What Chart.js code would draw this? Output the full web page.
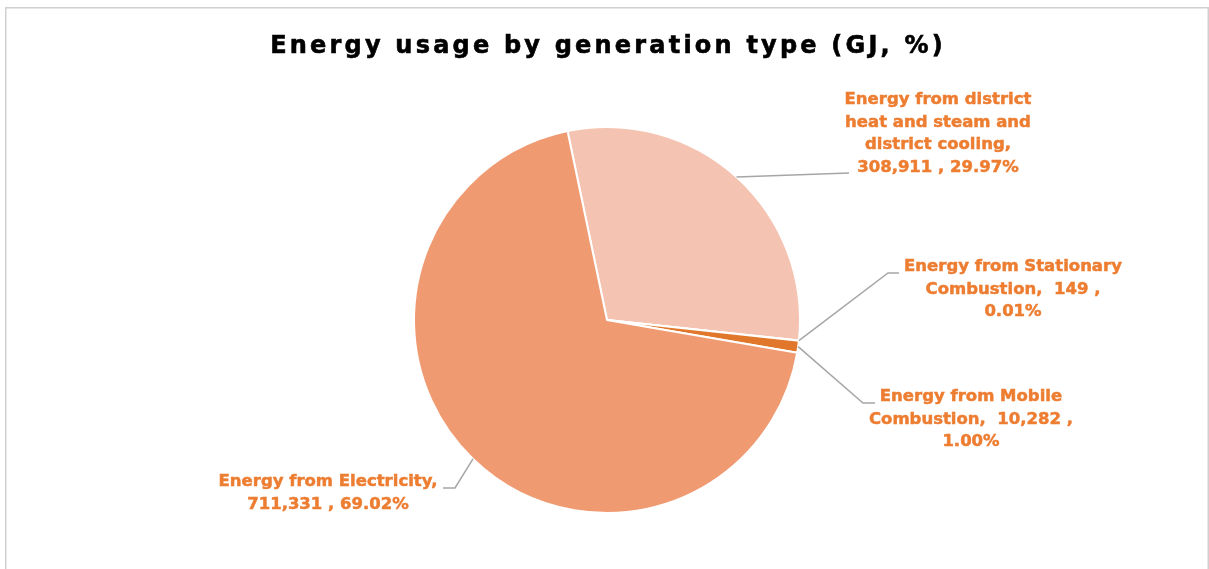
<!DOCTYPE html>
<html>
<head>
<meta charset="utf-8">
<script src="https://cdn.jsdelivr.net/npm/chart.js@4"></script>
<style>
  html, body { margin: 0; padding: 0; background: #ffffff; }
  #wrap { width: 1209px; height: 569px; position: relative; }
</style>
</head>
<body>
<div id="wrap"><canvas id="c" width="1209" height="569"></canvas></div>
<script>
// ---- data ----
const chartTitle = "Energy usage by generation type (GJ, %)";
const categories = [
  "Energy from district heat and steam and district cooling",
  "Energy from Stationary Combustion",
  "Energy from Mobile Combustion",
  "Energy from Electricity"
];
const valuesGJ = [308911, 149, 10282, 711331];
const sliceColors = ["#F5C3B1", "#F4B183", "#E0772A", "#F09A72"];
// line breaks of each data label, as shown in the chart
const labelLines = [
  ["Energy from district", "heat and steam and", "district cooling,", "{v} , {p}"],
  ["Energy from Stationary", "Combustion,  {v} ,", "{p}"],
  ["Energy from Mobile", "Combustion,  {v} ,", "{p}"],
  ["Energy from Electricity,", "{v} , {p}"]
];
// label placement relative to pie centre: text centre x, first line y, elbow, end of leader line
const labelLayout = [
  { tx: 331, ty: -220, ex: 242, ey: -147, fx: 242, fy: -147 },
  { tx: 406, ty: -53,  ex: 281, ey: -47,  fx: 292, fy: -47 },
  { tx: 364, ty: 77,   ex: 256, ey: 83,   fx: 268, fy: 83 },
  { tx: -279, ty: 162, ex: -152, ey: 168, fx: -164, fy: 168 }
];

const total = valuesGJ.reduce((a, b) => a + b, 0);

const framePlugin = {
  id: 'frame',
  beforeDraw(chart) {
    const ctx = chart.ctx;
    ctx.save();
    ctx.fillStyle = '#ffffff';
    ctx.fillRect(0, 0, chart.width, chart.height);
    ctx.strokeStyle = '#D0D0D0';
    ctx.lineWidth = 1.5;
    ctx.strokeRect(5.75, 7.75, 1202.5, 620);
    // title
    ctx.fillStyle = '#000000';
    ctx.strokeStyle = '#000000';
    ctx.lineWidth = 0.6;
    ctx.font = 'bold 24px "DejaVu Sans"';
    ctx.letterSpacing = '3.2px';
    ctx.textAlign = 'center';
    ctx.textBaseline = 'middle';
    ctx.fillText(chartTitle, 608, 47);
    ctx.strokeText(chartTitle, 608, 47);
    ctx.restore();
  }
};

const labelPlugin = {
  id: 'pieLabels',
  afterDatasetsDraw(chart) {
    const ctx = chart.ctx;
    const meta = chart.getDatasetMeta(0);
    ctx.save();
    meta.data.forEach((arc, i) => {
      const p = arc.getProps(['x', 'y', 'startAngle', 'endAngle', 'outerRadius'], true);
      const mid = (p.startAngle + p.endAngle) / 2;
      const ax = p.x + Math.cos(mid) * p.outerRadius;
      const ay = p.y + Math.sin(mid) * p.outerRadius;
      const L = labelLayout[i];
      ctx.strokeStyle = '#A6A6A6';
      ctx.lineWidth = 1.5;
      ctx.beginPath();
      ctx.moveTo(ax, ay);
      ctx.lineTo(p.x + L.ex, p.y + L.ey);
      ctx.lineTo(p.x + L.fx, p.y + L.fy);
      ctx.stroke();
      const v = valuesGJ[i].toLocaleString('en-US');
      const pct = (valuesGJ[i] / total * 100).toFixed(2) + '%';
      ctx.fillStyle = '#ED7D31';
      ctx.strokeStyle = '#ED7D31';
      ctx.lineWidth = 0.5;
      ctx.font = 'bold 16.5px "DejaVu Sans"';
      ctx.textAlign = 'center';
      ctx.textBaseline = 'middle';
      labelLines[i].forEach((ln, k) => {
        const t = ln.replace('{v}', v).replace('{p}', pct);
        const yy = p.y + L.ty + k * 22.5;
        ctx.fillText(t, p.x + L.tx, yy);
        ctx.strokeText(t, p.x + L.tx, yy);
      });
    });
    ctx.restore();
  }
};

new Chart(document.getElementById('c'), {
  type: 'pie',
  data: {
    labels: categories,
    datasets: [{
      data: valuesGJ,
      backgroundColor: sliceColors,
      borderColor: '#ffffff',
      borderWidth: 2
    }]
  },
  options: {
    responsive: false,
    devicePixelRatio: 1,
    animation: false,
    rotation: -11.8,
    radius: 193,
    layout: { padding: { left: 5, top: 71, right: 0, bottom: 0 } },
    plugins: {
      legend: { display: false },
      title: { display: false },
      tooltip: { enabled: false }
    }
  },
  plugins: [framePlugin, labelPlugin]
});
</script>
</body>
</html>
